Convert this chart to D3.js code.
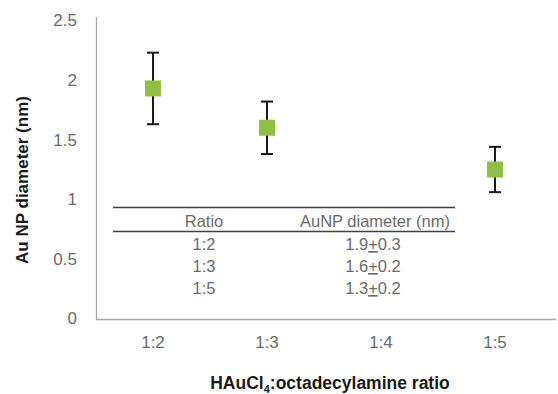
<!DOCTYPE html>
<html>
<head>
<meta charset="utf-8">
<script src="https://cdn.jsdelivr.net/npm/d3@7"></script>
<style>
  body { margin: 0; background: #fff; }
  text { font-family: Arial, "Liberation Sans", sans-serif; }
</style>
</head>
<body>
<div id="chart"></div>
<script>
// chart data
var categories = ["1:2", "1:3", "1:4", "1:5"];
var pointCats = ["1:2", "1:3", "1:5"];
var pointMeans = [1.93, 1.6, 1.25];
var pointErrs = [0.3, 0.22, 0.19];
var yTicks = [0, 0.5, 1, 1.5, 2, 2.5];

// inset table
var tableHeader = ["Ratio", "AuNP diameter (nm)"];
var tableRatios = ["1:2", "1:3", "1:5"];
var tableMeans = ["1.9", "1.6", "1.3"];
var tableErrs = ["0.3", "0.2", "0.2"];

var W = 558, H = 394;
var margin = {top: 20, right: 4, bottom: 75, left: 96};
var labelColor = "#6b6b6b";

var svg = d3.select("#chart").append("svg")
    .attr("width", W)
    .attr("height", H);

var x = d3.scaleBand()
    .domain(categories)
    .range([margin.left, 552]);

var y = d3.scaleLinear()
    .domain([0, 2.5])
    .range([318.5, 20.5]);

// axes
var yAxis = d3.axisLeft(y).tickValues(yTicks).tickSize(0).tickPadding(19)
    .tickFormat(function(d) { return d; });
var xAxis = d3.axisBottom(x).tickSize(0).tickPadding(16);

var yg = svg.append("g")
    .attr("transform", "translate(" + margin.left + ",0)")
    .call(yAxis);
yg.select(".domain").remove();
yg.selectAll("text").attr("fill", labelColor).style("font-size", "17px");

svg.append("line")
    .attr("x1", margin.left + 0.5).attr("x2", margin.left + 0.5)
    .attr("y1", 17).attr("y2", y(0) + 1.5)
    .attr("stroke", "#a6a6a6").attr("stroke-width", 1.3);

var xg = svg.append("g")
    .attr("transform", "translate(0," + (y(0) + 1) + ")")
    .call(xAxis);
xg.select(".domain").remove();
xg.selectAll("text").attr("fill", labelColor).style("font-size", "17px");

svg.append("line")
    .attr("x1", margin.left).attr("x2", 556)
    .attr("y1", y(0) + 1).attr("y2", y(0) + 1)
    .attr("stroke", "#a6a6a6").attr("stroke-width", 1.3);

// axis titles
svg.append("text")
    .attr("transform", "translate(28,180) rotate(-90)")
    .attr("text-anchor", "middle")
    .style("font-size", "17px").style("font-weight", "bold")
    .attr("fill", "#1a1a1a")
    .text("Au NP diameter (nm)");

var xt = svg.append("text")
    .attr("x", 330).attr("y", 389)
    .attr("text-anchor", "middle")
    .style("font-size", "17.5px").style("font-weight", "bold")
    .attr("fill", "#1a1a1a");
xt.append("tspan").text("HAuCl");
xt.append("tspan").attr("dy", 4).style("font-size", "11px").text("4");
xt.append("tspan").attr("dy", -4).text(":octadecylamine ratio");

// error bars + markers
var pts = pointCats.map(function(c, i) {
    return {cat: c, mean: pointMeans[i], err: pointErrs[i]};
});
var cx = function(d) { return x(d.cat) + x.bandwidth() / 2; };

var g = svg.append("g").selectAll("g").data(pts).join("g");
g.append("line")
    .attr("x1", cx).attr("x2", cx)
    .attr("y1", function(d) { return y(d.mean + d.err); })
    .attr("y2", function(d) { return y(d.mean - d.err); })
    .attr("stroke", "#1a1a1a").attr("stroke-width", 2);
[1, -1].forEach(function(s) {
    g.append("line")
        .attr("x1", function(d) { return cx(d) - 6; })
        .attr("x2", function(d) { return cx(d) + 6; })
        .attr("y1", function(d) { return y(d.mean + s * d.err); })
        .attr("y2", function(d) { return y(d.mean + s * d.err); })
        .attr("stroke", "#1a1a1a").attr("stroke-width", 2);
});
g.append("rect")
    .attr("x", function(d) { return cx(d) - 8; })
    .attr("y", function(d) { return y(d.mean) - 8; })
    .attr("width", 16).attr("height", 16)
    .attr("fill", "#8fbf45");

// inset table
var tab = svg.append("g");
var col1 = 204, col2 = 375;
tab.append("line").attr("x1", 113).attr("x2", 455).attr("y1", 207.5).attr("y2", 207.5)
    .attr("stroke", "#404040").attr("stroke-width", 1.5);
tab.append("line").attr("x1", 113).attr("x2", 455).attr("y1", 231.5).attr("y2", 231.5)
    .attr("stroke", "#404040").attr("stroke-width", 1.5);
tab.append("text").attr("x", col1).attr("y", 227).attr("text-anchor", "middle")
    .style("font-size", "16.5px").attr("fill", labelColor).text(tableHeader[0]);
tab.append("text").attr("x", col2).attr("y", 227).attr("text-anchor", "middle")
    .style("font-size", "16.5px").attr("fill", labelColor).text(tableHeader[1]);

tableRatios.forEach(function(r, i) {
    var ty = 250 + i * 22;
    tab.append("text").attr("x", col1).attr("y", ty).attr("text-anchor", "middle")
        .style("font-size", "16.5px").attr("fill", labelColor).text(r);
    var t = tab.append("text").attr("x", col2 - 2).attr("y", ty).attr("text-anchor", "middle")
        .style("font-size", "16.5px").attr("fill", labelColor);
    t.append("tspan").text(tableMeans[i]);
    t.append("tspan").style("text-decoration", "underline").text("+");
    t.append("tspan").text(tableErrs[i]);
});
</script>
</body>
</html>
